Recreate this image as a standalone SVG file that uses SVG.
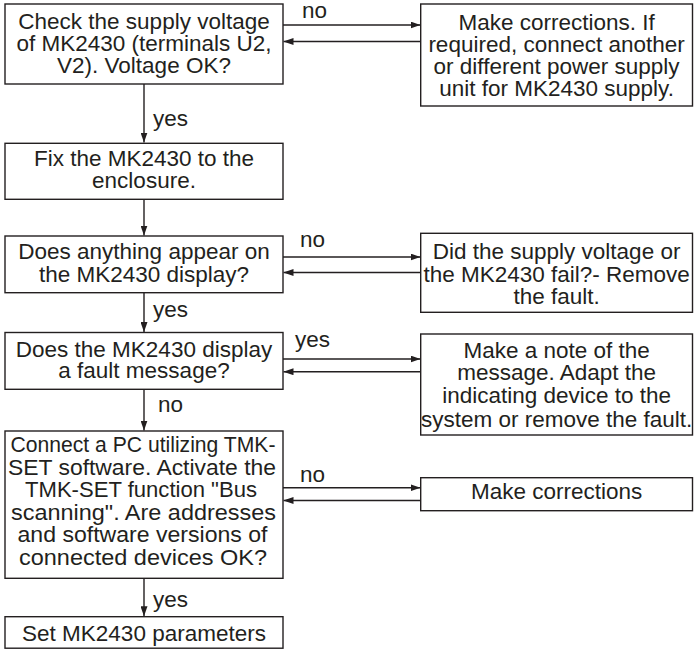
<svg xmlns="http://www.w3.org/2000/svg" width="694" height="650" viewBox="0 0 694 650">
<style>
.box{fill:#fff;stroke:#231f20;stroke-width:1.4}
.t{font-family:"Liberation Sans",Arial,sans-serif;font-size:22.5px;fill:#231f20;text-anchor:middle}
.l{font-family:"Liberation Sans",Arial,sans-serif;font-size:22.5px;fill:#231f20}
.c{stroke:#231f20;stroke-width:1.4;fill:none;marker-end:url(#ah)}
</style>
<defs>
<marker id="ah" markerUnits="userSpaceOnUse" markerWidth="10" markerHeight="7" refX="10" refY="3.5" orient="auto">
<path d="M0,0 L10,3.5 L0,7 Z" fill="#231f20"/>
</marker>
</defs>
<rect width="694" height="650" fill="#fff"/>
<g id="connectors">
<line class="c" x1="283" y1="25" x2="420.5" y2="25"/>
<line class="c" x1="420.5" y1="41.5" x2="283.5" y2="41.5"/>
<line class="c" x1="144" y1="84" x2="144" y2="142.5"/>
<line class="c" x1="144" y1="199.5" x2="144" y2="235.5"/>
<line class="c" x1="283" y1="257" x2="420.5" y2="257"/>
<line class="c" x1="420.5" y1="272.5" x2="283.5" y2="272.5"/>
<line class="c" x1="144" y1="292.5" x2="144" y2="332"/>
<line class="c" x1="283" y1="359" x2="420.5" y2="359"/>
<line class="c" x1="420.5" y1="371.7" x2="283.5" y2="371.7"/>
<line class="c" x1="144" y1="389.3" x2="144" y2="430.5"/>
<line class="c" x1="283" y1="487.7" x2="420.5" y2="487.7"/>
<line class="c" x1="420.5" y1="500.5" x2="283.5" y2="500.5"/>
<line class="c" x1="144" y1="578.3" x2="144" y2="616.2"/>
<text class="l" x="302" y="17.5">no</text>
<text class="l" x="153" y="126">yes</text>
<text class="l" x="300" y="246.7">no</text>
<text class="l" x="153" y="316.7">yes</text>
<text class="l" x="295" y="346.7">yes</text>
<text class="l" x="158" y="411.7">no</text>
<text class="l" x="300" y="481.7">no</text>
<text class="l" x="153" y="606.7">yes</text>
</g>
<g id="n1">
<rect class="box" x="5" y="4" width="278" height="80"/>
<text class="t" x="144" y="29.3">Check the supply voltage</text>
<text class="t" x="144" y="51">of MK2430 (terminals U2,</text>
<text class="t" x="144" y="72.7">V2). Voltage OK?</text>
</g>
<g id="n2">
<rect class="box" x="420.7" y="4" width="271.8" height="102"/>
<text class="t" x="556.6" y="29.5">Make corrections. If</text>
<text class="t" x="556.6" y="51.5">required, connect another</text>
<text class="t" x="556.6" y="73.5">or different power supply</text>
<text class="t" x="556.6" y="96">unit for MK2430 supply.</text>
</g>
<g id="n3">
<rect class="box" x="5" y="143.3" width="278" height="56"/>
<text class="t" x="144" y="165.7">Fix the MK2430 to the</text>
<text class="t" x="144" y="188">enclosure.</text>
</g>
<g id="n4">
<rect class="box" x="5" y="236" width="278" height="56.7"/>
<text class="t" x="144" y="259.3">Does anything appear on</text>
<text class="t" x="144" y="282.3">the MK2430 display?</text>
</g>
<g id="n5">
<rect class="box" x="420.7" y="233.3" width="271.8" height="79"/>
<text class="t" x="556.6" y="259.3">Did the supply voltage or</text>
<text class="t" x="556.6" y="281.7">the MK2430 fail?- Remove</text>
<text class="t" x="556.6" y="304.3">the fault.</text>
</g>
<g id="n6">
<rect class="box" x="5" y="332.5" width="278" height="56.8"/>
<text class="t" x="144" y="356.7">Does the MK2430 display</text>
<text class="t" x="144" y="378.3">a fault message?</text>
</g>
<g id="n7">
<rect class="box" x="420.7" y="334" width="271.8" height="101"/>
<text class="t" x="556.6" y="357.5">Make a note of the</text>
<text class="t" x="556.6" y="380.2">message. Adapt the</text>
<text class="t" x="556.6" y="403">indicating device to the</text>
<text class="t" x="556.6" y="426.5">system or remove the fault.</text>
</g>
<g id="n8">
<rect class="box" x="5" y="431" width="278" height="147.3"/>
<text class="t" x="143" y="452" textLength="265" lengthAdjust="spacingAndGlyphs">Connect a PC utilizing TMK-</text>
<text class="t" x="142" y="474.5" textLength="268" lengthAdjust="spacingAndGlyphs">SET software. Activate the</text>
<text class="t" x="141" y="497" textLength="232" lengthAdjust="spacingAndGlyphs">TMK-SET function "Bus</text>
<text class="t" x="143.5" y="519.5" textLength="265" lengthAdjust="spacingAndGlyphs">scanning". Are addresses</text>
<text class="t" x="142.5" y="542" textLength="250" lengthAdjust="spacingAndGlyphs">and software versions of</text>
<text class="t" x="143" y="564.5" textLength="248" lengthAdjust="spacingAndGlyphs">connected devices OK?</text>
</g>
<g id="n9">
<rect class="box" x="420.7" y="477.7" width="271.8" height="33"/>
<text class="t" x="556.6" y="499.3">Make corrections</text>
</g>
<g id="n10">
<rect class="box" x="5" y="616.7" width="278" height="31.5"/>
<text class="t" x="144" y="640.7">Set MK2430 parameters</text>
</g>
</svg>
